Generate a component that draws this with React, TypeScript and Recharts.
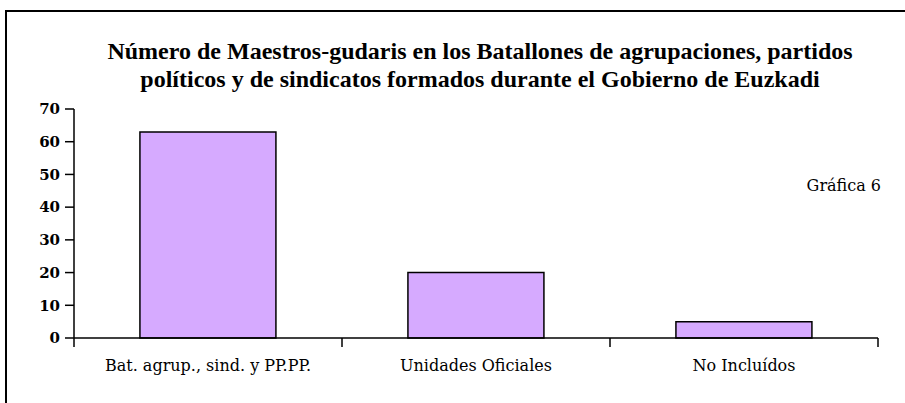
import React from "react";
import { BarChart, Bar, XAxis, YAxis } from "recharts";

const categories = ["Bat. agrup., sind. y PP.PP.", "Unidades Oficiales", "No Incluídos"];
const values = [63, 20, 5];
const yTicks = [0, 10, 20, 30, 40, 50, 60, 70];
const titleLines = [
  "Número de Maestros-gudaris en los Batallones de agrupaciones, partidos",
  "políticos y de sindicatos formados durante el Gobierno de Euzkadi",
];
const note = "Gráfica 6";

const data = categories.map((c, i) => ({ name: c, value: values[i] }));

const W = 905;
const H = 403;
const margin = { top: 109, right: 27, bottom: 35, left: 14 };
const yAxisWidth = 60;
const plotW = W - margin.left - margin.right - yAxisWidth;
const serif = "'Liberation Serif', 'Times New Roman', serif";
const bookSerif = "'DejaVu Serif', serif";

const XTick = (props: any) => {
  const { x, y, payload, index } = props;
  const half =
    payload && typeof payload.offset === "number" && payload.offset > 0
      ? payload.offset
      : plotW / categories.length / 2;
  return (
    <g>
      <line x1={x - half} y1={y} x2={x - half} y2={y + 9} stroke="#000" strokeWidth={1.5} />
      {index === categories.length - 1 && (
        <line x1={x + half} y1={y} x2={x + half} y2={y + 9} stroke="#000" strokeWidth={1.5} />
      )}
      <text x={x} y={y + 33} textAnchor="middle" fontFamily={bookSerif} fontSize={16} fill="#000">
        {payload.value}
      </text>
    </g>
  );
};

export default function App() {
  return (
    <div style={{ position: "absolute", left: 0, top: 0, width: W, height: H, overflow: "hidden", background: "#fff" }}>
      <div
        style={{
          position: "absolute",
          left: 5,
          top: 10,
          width: W + 20,
          height: H + 20,
          border: "2px solid #000",
          boxSizing: "border-box",
        }}
      />
      <div
        style={{
          position: "absolute",
          left: 0,
          top: 37,
          width: 960,
          textAlign: "center",
          fontFamily: serif,
          fontWeight: "bold",
          fontSize: 24,
          lineHeight: "28px",
          color: "#000",
        }}
      >
        {titleLines.map((t, i) => (
          <div key={i}>{t}</div>
        ))}
      </div>
      <div
        style={{
          position: "absolute",
          right: 24,
          top: 176,
          fontFamily: bookSerif,
          fontSize: 16,
          color: "#000",
        }}
      >
        {note}
      </div>
      <div style={{ position: "absolute", left: 0, top: 0 }}>
        <BarChart width={W} height={H} data={data} margin={margin} barCategoryGap="24.6%">
          <XAxis
            dataKey="name"
            tickSize={0}
            tickMargin={0}
            tickLine={false}
            interval={0}
            axisLine={{ stroke: "#000", strokeWidth: 1.5 }}
            tick={<XTick />}
            height={30}
          />
          <YAxis
            width={yAxisWidth}
            domain={[0, 70]}
            ticks={yTicks}
            interval={0}
            tickSize={9}
            tickMargin={5}
            axisLine={{ stroke: "#000", strokeWidth: 1.5 }}
            tickLine={{ stroke: "#000", strokeWidth: 1.5 }}
            tick={{ fill: "#000", fontFamily: bookSerif, fontSize: 15, fontWeight: "bold" }}
          />
          <Bar dataKey="value" fill="#D6AAFF" stroke="#000" strokeWidth={1.5} isAnimationActive={false} />
        </BarChart>
      </div>
    </div>
  );
}
